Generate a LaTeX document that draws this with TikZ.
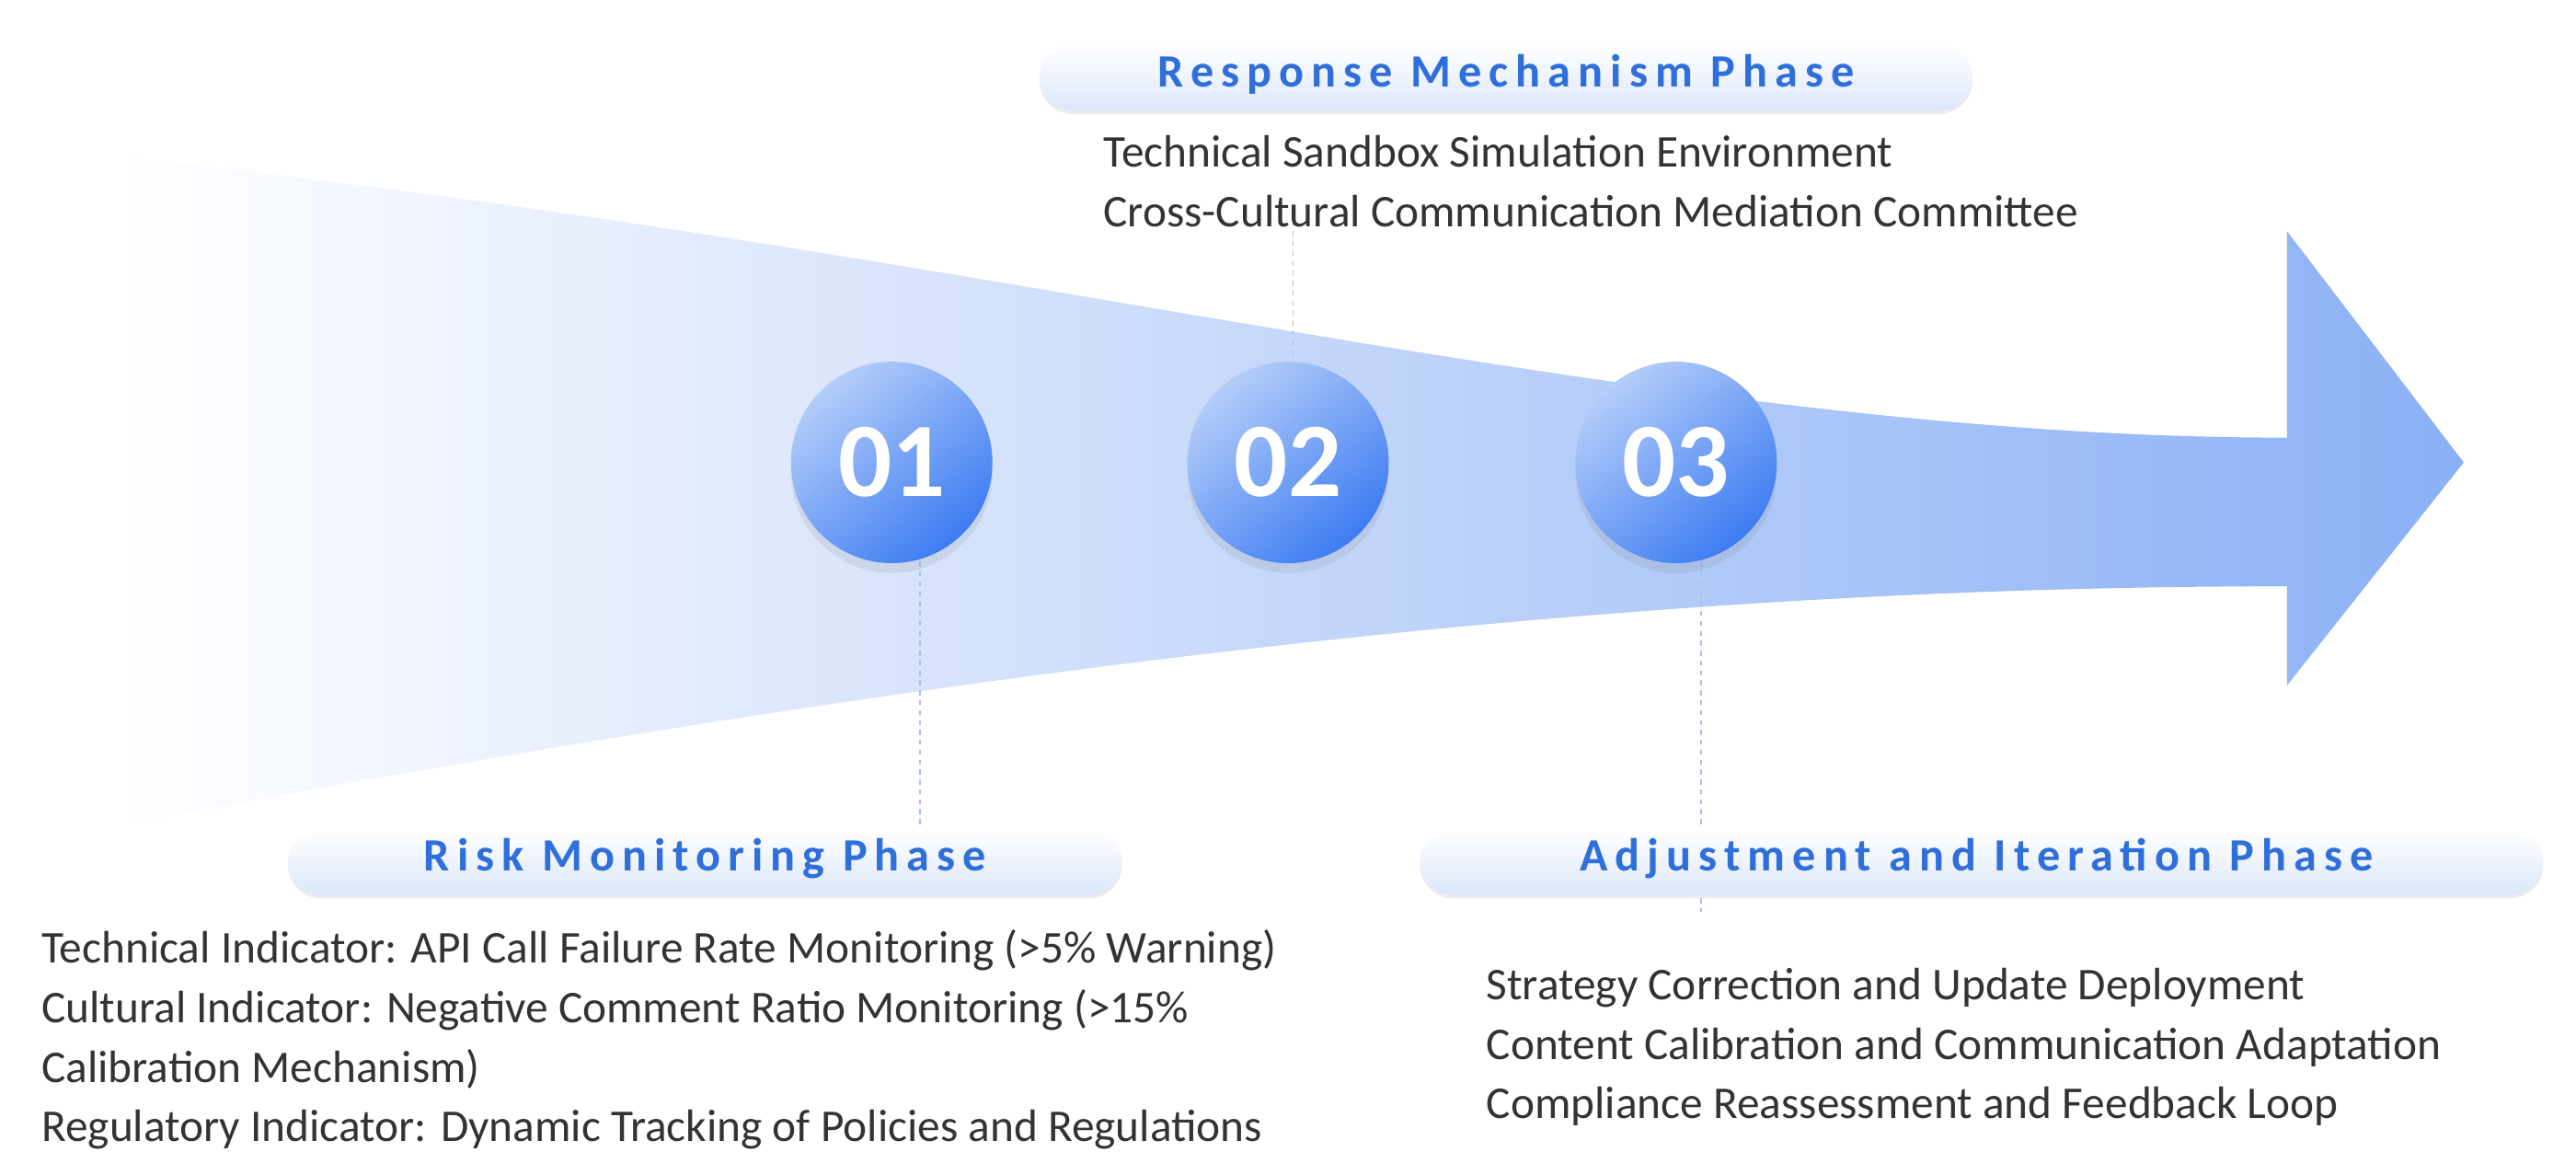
\documentclass[tikz,border=0pt]{standalone}
\usepackage{fontspec}
\setmainfont{Carlito}
\newfontfamily\ttlfont{Carlito}[LetterSpace=16]
\usetikzlibrary{shadows}
\definecolor{arrowblue}{HTML}{8BB0F5}
\definecolor{titleblue}{HTML}{2F6FDB}
\definecolor{pillblue}{HTML}{DCE7FB}
\definecolor{circdark}{HTML}{3D7CF2}
\definecolor{circlight}{HTML}{B4CDF9}
\definecolor{dashblue}{HTML}{A9C0EC}
\definecolor{txt}{HTML}{333333}
\tikzset{
  pill/.style={rounded corners=20pt, minimum height=40pt, top color=white, bottom color=pillblue, draw=none, drop shadow={shadow xshift=0pt, shadow yshift=-2pt, opacity=0.15}},
  ttl/.style={font=\ttlfont\bfseries\fontsize{28}{30}\selectfont, text=titleblue},
  circ/.style={circle, minimum size=122pt, inner sep=0pt, shading=axis, left color=circlight, right color=circdark, shading angle=40, text=white, font=\bfseries\fontsize{64}{64}\selectfont, drop shadow={shadow xshift=0pt, shadow yshift=-6pt, opacity=0.15}},
  body/.style={align=left, anchor=north west, text=txt, font=\fontsize{27.5}{36}\selectfont, inner sep=0pt},
  dsh/.style={draw=dashblue, dashed, line width=1pt}
}
\begin{document}
\begin{tikzpicture}[x=1pt,y=-1pt]
\useasboundingbox (0,0) rectangle (1560,711);
\fill[white] (0,0) rectangle (1560,711);
% arrow
\shade[left color=white, right color=arrowblue, middle color=arrowblue!50]
  (70,95) .. controls (600,150) and (1000,265) .. (1385,265)
  -- (1385,140) -- (1492,280) -- (1385,415) -- (1385,355)
  .. controls (1000,355) and (600,400) .. (70,500) -- cycle;
% dashed leaders
\coordinate (d2a) at (783,128); \coordinate (d2b) at (783,222);
\coordinate (d1a) at (557,340); \coordinate (d1b) at (557,500);
\coordinate (d3a) at (1030,340); \coordinate (d3b) at (1030,552);
\draw[dsh] (d2a) -- (d2b);
\draw[dsh] (d1a) -- (d1b);
\draw[dsh] (d3a) -- (d3b);
% circles
\node[circ] (c1) at (540,280) {01};
\node[circ] (c2) at (780,280) {02};
\node[circ] (c3) at (1015,280) {03};
% titles
\node[pill, minimum width=565pt] (p2) at (912,47) {};
\node[ttl] (t2) at (912,45) {Response Mechanism Phase};
\node[pill, minimum width=505pt] (p1) at (427,522) {};
\node[ttl] (t1) at (427,520) {Risk Monitoring Phase};
\node[pill, minimum width=680pt] (p3) at (1200,522) {};
\node[ttl] (t3) at (1197,520) {Adjustment and Iteration Phase};
% texts
\node[body] (b2) at (668,82) {Technical Sandbox Simulation Environment\\Cross-Cultural Communication Mediation Committee};
\node[body] (b1) at (25,563) {Technical Indicator: API Call Failure Rate Monitoring (>5\% Warning)\\Cultural Indicator: Negative Comment Ratio Monitoring (>15\%\\Calibration Mechanism)\\Regulatory Indicator: Dynamic Tracking of Policies and Regulations};
\node[body] (b3) at (900,586) {Strategy Correction and Update Deployment\\Content Calibration and Communication Adaptation\\Compliance Reassessment and Feedback Loop};
\end{tikzpicture}
\end{document}
